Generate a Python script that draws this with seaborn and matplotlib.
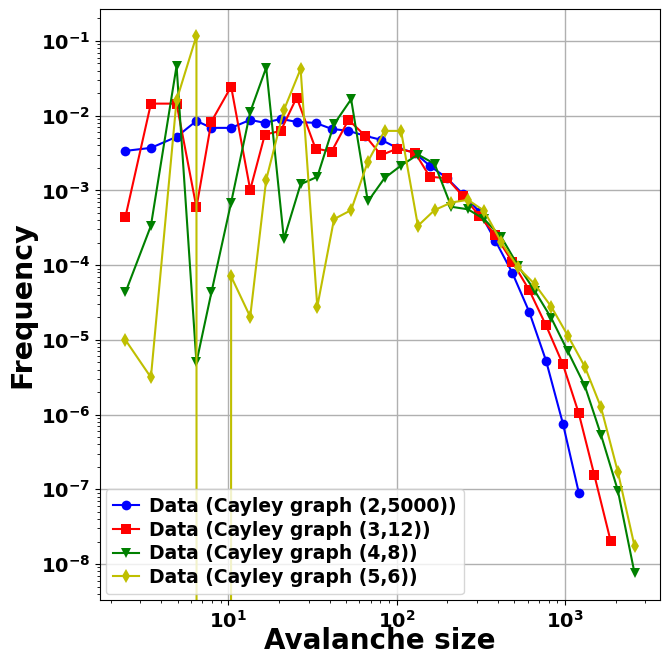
import matplotlib
matplotlib.use("Agg")
import matplotlib.pyplot as plt
import seaborn as sns
import numpy as np

# avalanche size grids (log-binned)
size_a = [2.45, 3.47, 4.93, 6.47, 7.94, 10.4, 13.5, 16.5, 20.5, 25.5, 33.0, 41.1, 51.8,
          65.2, 81.0, 100.7, 128.6, 157.6, 198.6, 246.9, 310.9, 386.4, 486.8, 613.3,
          772.6, 973.2, 1209, 1497, 1868]
size_b = [2.45, 3.47, 4.93, 6.47, 7.94, 10.4, 13.5, 16.8, 21.4, 26.9, 33.8, 42.5, 53.7,
          67.5, 84.8, 106.3, 133.9, 168.1, 211.5, 265.4, 331.4, 420, 527, 661, 830,
          1041, 1313, 1639, 2064, 2593]

freq_2_5000 = [3.38e-3, 3.71e-3, 5.21e-3, 8.52e-3, 6.87e-3, 6.87e-3, 8.79e-3, 8.01e-3,
               9.06e-3, 8.26e-3, 8.01e-3, 6.66e-3, 6.26e-3, 5.37e-3, 4.75e-3, 3.71e-3,
               3.18e-3, 2.13e-3, 1.47e-3, 9.0e-4, 5.17e-4, 2.12e-4, 7.91e-5, 2.38e-5,
               5.27e-6, 7.58e-7, 9.06e-8]
freq_3_12 = [4.44e-4, 1.45e-2, 1.45e-2, 5.91e-4, 8.34e-3, 2.45e-2, 1.02e-3, 5.59e-3,
             6.26e-3, 1.75e-2, 3.63e-3, 3.31e-3, 8.79e-3, 5.37e-3, 2.96e-3, 3.63e-3,
             3.21e-3, 1.52e-3, 1.46e-3, 8.47e-4, 4.57e-4, 2.52e-4, 1.11e-4, 4.65e-5,
             1.56e-5, 4.70e-6, 1.04e-6, 1.54e-7, 2.05e-8]
freq_4_8 = [4.32e-5, 3.36e-4, 4.63e-2, 5.0e-6, 4.32e-5, 6.89e-4, 1.12e-2, 4.40e-2,
            2.23e-4, 1.21e-3, 1.52e-3, 7.69e-3, 1.66e-2, 7.11e-4, 1.46e-3, 2.15e-3,
            3.02e-3, 2.27e-3, 6.04e-4, 5.59e-4, 4.13e-4, 2.35e-4, 9.82e-5, 4.55e-5,
            1.96e-5, 7.02e-6, 2.43e-6, 5.35e-7, 9.64e-8, 7.56e-9]
freq_5_6 = [9.97e-6, 3.15e-6, 1.61e-2, 0.117, 0.0, 7.06e-5, 2.04e-5, 1.39e-3, 1.19e-2,
            4.22e-2, 2.78e-5, 4.13e-4, 5.45e-4, 2.43e-3, 6.26e-3, 6.26e-3, 3.36e-4,
            5.45e-4, 6.89e-4, 7.48e-4, 5.33e-4, 2.01e-4, 9.31e-5, 5.59e-5, 2.78e-5,
            1.14e-5, 4.38e-6, 1.25e-6, 1.71e-7, 1.73e-8]

labels = ["Data (Cayley graph (2,5000))", "Data (Cayley graph (3,12))",
          "Data (Cayley graph (4,8))", "Data (Cayley graph (5,6))"]

plt.rcParams['mathtext.default'] = 'bf'
plt.rcParams['font.family'] = ['DejaVu Sans']

fig = plt.figure(figsize=(6.63, 6.56), dpi=100)
ax = fig.add_axes([100 / 663, 56 / 656, 560 / 663, 591 / 656])

series = [
    (size_a[:len(freq_2_5000)], freq_2_5000, "b", "o"),
    (size_a[:len(freq_3_12)], freq_3_12, "r", "s"),
    (size_b[:len(freq_4_8)], freq_4_8, "g", "v"),
    (size_b[:len(freq_5_6)], freq_5_6, "y", "d"),
]
for (xs, ys, c, m), lab in zip(series, labels):
    sns.lineplot(x=xs, y=ys, color=c, marker=m, markersize=7, markeredgewidth=0,
                 linewidth=1.5, label=lab, errorbar=None, sort=False, ax=ax)

ax.set_xscale("log")
ax.set_yscale("log")
ax.grid(True, which="major", color="#b0b0b0", linewidth=1.0)
ax.set_axisbelow(True)

ax.set_xlabel("Avalanche size", fontsize=20, fontweight="bold", labelpad=-3)
ax.set_ylabel("Frequency", fontsize=20.5, fontweight="bold", labelpad=3)
ax.tick_params(axis="both", which="major", labelsize=14)
for lab in ax.get_xticklabels() + ax.get_yticklabels():
    lab.set_fontweight("bold")

leg = ax.legend(loc="lower left", prop={"weight": "bold", "size": 13.5},
                handlelength=1.4, handletextpad=0.5, borderpad=0.4,
                labelspacing=0.25, borderaxespad=0.3)

fig.savefig("out.png", dpi=100)
